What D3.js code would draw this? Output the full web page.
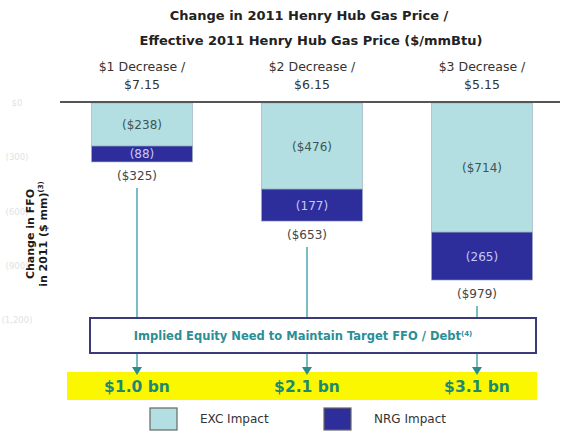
<!DOCTYPE html>
<html>
<head>
<meta charset="utf-8">
<script src="https://cdn.jsdelivr.net/npm/d3@7"></script>
<style>
  body { margin: 0; background: #fff; }
  svg { display: block; font-family: "DejaVu Sans", Verdana, sans-serif; }
</style>
</head>
<body>
<div id="chart"></div>
<script>
const catLine1 = ['$1 Decrease /', '$2 Decrease /', '$3 Decrease /']
const catLine2 = ['$7.15', '$6.15', '$5.15']
const excImpact = [238, 476, 714]
const nrgImpact = [88, 177, 265]
const totalLabels = ['($325)', '($653)', '($979)']
const equityNeed = ['$1.0 bn', '$2.1 bn', '$3.1 bn']
const yTicks = [0, 300, 600, 900, 1200]
const yTickLabels = ['$0', '(300)', '(600)', '(900)', '(1,200)']

const width = 571
const height = 431

const svg = d3.select('#chart').append('svg')
  .attr('width', width)
  .attr('height', height)

const data = catLine1.map((c, i) => ({ cat: c, exc: excImpact[i], nrg: nrgImpact[i] }))

const x = d3.scaleBand()
  .domain(catLine1)
  .range([57, 567])
  .paddingInner(0.406)
  .paddingOuter(0.203)

const y = d3.scaleLinear()
  .domain([0, 1200])
  .range([103, 320])

const stack = d3.stack().keys(['exc', 'nrg'])(data)
const colors = { exc: '#b3dfe2', nrg: '#2d2d9c' }

// title
svg.append('text')
  .attr('x', 309).attr('y', 20)
  .attr('text-anchor', 'middle')
  .attr('font-size', 13).attr('font-weight', 'bold').attr('fill', '#222')
  .text('Change in 2011 Henry Hub Gas Price /')
svg.append('text')
  .attr('x', 311).attr('y', 45)
  .attr('text-anchor', 'middle')
  .attr('font-size', 13).attr('font-weight', 'bold').attr('fill', '#222')
  .text('Effective 2011 Henry Hub Gas Price ($/mmBtu)')

// category labels
const cats = svg.append('g').selectAll('g')
  .data(catLine1)
  .enter().append('g')
cats.append('text')
  .attr('x', d => x(d) + x.bandwidth() / 2)
  .attr('y', 71)
  .attr('text-anchor', 'middle')
  .attr('font-size', 12.5).attr('fill', '#333')
  .text(d => d)
cats.append('text')
  .attr('x', d => x(d) + x.bandwidth() / 2)
  .attr('y', 89)
  .attr('text-anchor', 'middle')
  .attr('font-size', 12.5).attr('fill', '#333')
  .text((d, i) => catLine2[i])

// faint y axis (washed out in the original)
const yAxis = svg.append('g')
  .attr('transform', 'translate(17,0)')
  .call(d3.axisLeft(y).tickValues(yTicks).tickSize(0).tickFormat((d, i) => yTickLabels[i]))
yAxis.select('.domain').remove()
yAxis.selectAll('text')
  .attr('text-anchor', 'middle')
  .attr('x', 0)
  .attr('font-family', '"DejaVu Sans", sans-serif')
  .attr('font-size', 8.5)
  .attr('fill', '#e2e2e2')

// y title
const yTitle = svg.append('text')
  .attr('transform', 'translate(34,234) rotate(-90)')
  .attr('text-anchor', 'middle')
  .attr('font-size', 11).attr('font-weight', 'bold').attr('fill', '#1a1a1a')
yTitle.append('tspan').attr('x', 0).attr('dy', 0).text('Change in FFO')
yTitle.append('tspan').attr('x', 0).attr('dy', 13).text('in 2011 ($ mm)')
yTitle.append('tspan').attr('font-size', 7).attr('dy', -4).text('(3)')

// bars
const layer = svg.append('g').selectAll('g')
  .data(stack)
  .enter().append('g')
  .attr('fill', d => colors[d.key])

layer.selectAll('rect')
  .data(d => d)
  .enter().append('rect')
  .attr('x', d => x(d.data.cat))
  .attr('y', d => y(d[0]))
  .attr('width', x.bandwidth())
  .attr('height', d => y(d[1]) - y(d[0]))
  .attr('stroke', '#9ab')
  .attr('stroke-width', 0.6)

// segment labels
layer.selectAll('text')
  .data(d => d.map(v => ({ key: d.key, v })))
  .enter().append('text')
  .attr('x', d => x(d.v.data.cat) + x.bandwidth() / 2)
  .attr('y', d => (y(d.v[0]) + y(d.v[1])) / 2 + 4.5)
  .attr('text-anchor', 'middle')
  .attr('font-size', 12)
  .attr('fill', d => d.key === 'exc' ? '#3c5656' : '#c8c8f4')
  .text(d => d.key === 'exc' ? `($${d.v.data.exc})` : `(${d.v.data.nrg})`)

// baseline
svg.append('line')
  .attr('x1', 60).attr('x2', 560)
  .attr('y1', y(0) - 1).attr('y2', y(0) - 1)
  .attr('stroke', '#555').attr('stroke-width', 2)

// totals and connectors
const lineX = d => x(d.cat) + x.bandwidth() / 2 - 5
const tot = svg.append('g').selectAll('g')
  .data(data)
  .enter().append('g')

tot.append('text')
  .attr('x', lineX)
  .attr('y', d => y(d.exc + d.nrg) + 18)
  .attr('text-anchor', 'middle')
  .attr('font-size', 12).attr('fill', '#444')
  .text((d, i) => totalLabels[i])

tot.append('line')
  .attr('x1', lineX).attr('x2', lineX)
  .attr('y1', d => y(d.exc + d.nrg) + 26)
  .attr('y2', 318)
  .attr('stroke', '#4aa8b0').attr('stroke-width', 1.5)

tot.append('line')
  .attr('x1', lineX).attr('x2', lineX)
  .attr('y1', 353).attr('y2', 368)
  .attr('stroke', '#4aa8b0').attr('stroke-width', 1.5)

// yellow band
svg.insert('rect', 'g')
  .attr('x', 67).attr('y', 372)
  .attr('width', 470).attr('height', 28)
  .attr('fill', '#fbf700')

tot.append('path')
  .attr('d', d => `M${lineX(d) - 5},367 L${lineX(d) + 5},367 L${lineX(d)},375 Z`)
  .attr('fill', '#2a8c8c')

tot.append('text')
  .attr('x', lineX)
  .attr('y', 392)
  .attr('text-anchor', 'middle')
  .attr('font-size', 15.5).attr('font-weight', 'bold').attr('fill', '#1d8a6e')
  .text((d, i) => equityNeed[i])

// equity box
svg.append('rect')
  .attr('x', 90).attr('y', 318)
  .attr('width', 446).attr('height', 35)
  .attr('fill', '#fff')
  .attr('stroke', '#3a3a7a').attr('stroke-width', 2)
const boxText = svg.append('text')
  .attr('x', 303).attr('y', 340)
  .attr('text-anchor', 'middle')
  .attr('font-size', 11.5).attr('font-weight', 'bold').attr('fill', '#2a8f96')
boxText.append('tspan').text('Implied Equity Need to Maintain Target FFO / Debt')
boxText.append('tspan').attr('font-size', 7).attr('dy', -4).text('(4)')

// legend
const legendItems = [
  { key: 'exc', label: 'EXC Impact', x: 150 },
  { key: 'nrg', label: 'NRG Impact', x: 324 }
]
const legend = svg.append('g').selectAll('g')
  .data(legendItems)
  .enter().append('g')
  .attr('transform', d => `translate(${d.x},408)`)
legend.append('rect')
  .attr('width', 27).attr('height', 22)
  .attr('fill', d => colors[d.key])
  .attr('stroke', '#666').attr('stroke-width', 1.2)
legend.append('text')
  .attr('x', 50).attr('y', 15)
  .attr('font-size', 12).attr('fill', '#333')
  .text(d => d.label)
</script>
</body>
</html>
